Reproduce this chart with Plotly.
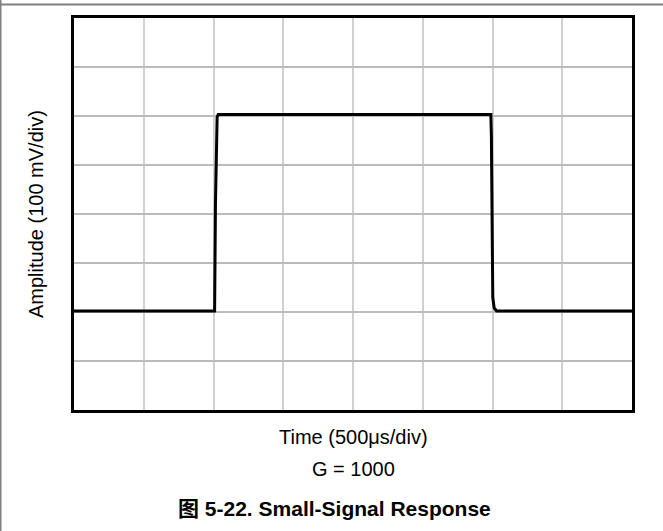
import plotly.graph_objects as go

# Scope trace: time in microseconds, amplitude in millivolts
time_us = [0, 1008, 1014, 1020, 1026, 1034, 1050, 2988, 2992, 2996, 3002, 3012, 3030, 4000]
amplitude_mv = [202, 202, 420, 575, 598, 603, 603, 603, 560, 330, 230, 208, 202, 202]

x_label = "Time (500\u03bcs/div)"
y_label = "Amplitude (100 mV/div)"
gain_note = "G = 1000"
caption = "<b>\u56fe 5-22. Small-Signal Response</b>"

FONT = "Liberation Sans, Arial, Noto Sans CJK SC, sans-serif"

W, H = 663, 531
L, R, T, B = 74, 31, 18, 121
PW, PH = W - L - R, H - T - B


def px_to_paper_x(px):
    return (px - L) / PW


def px_to_paper_y(py):
    return (H - B - py) / PH


fig = go.Figure()
fig.add_trace(go.Scatter(
    x=time_us, y=amplitude_mv, mode="lines",
    line=dict(color="black", width=3),
    hoverinfo="skip", showlegend=False,
))

axis_common = dict(
    showline=True, linecolor="black", linewidth=3, mirror=True,
    showticklabels=False, ticks="", zeroline=False, showgrid=True,
    gridwidth=1.5, fixedrange=True,
)
fig.update_xaxes(range=[0, 4000], dtick=500, tick0=0, gridcolor="#d0d0d0", **axis_common)
fig.update_yaxes(range=[0, 800], dtick=100, tick0=0, gridcolor="#bcbcbc", **axis_common)

annotations = [
    dict(text=y_label, x=px_to_paper_x(36), y=0.5, textangle=-90,
         font=dict(size=20)),
    dict(text=x_label, x=0.5, y=px_to_paper_y(437), font=dict(size=20)),
    dict(text=gain_note, x=0.5, y=px_to_paper_y(469), font=dict(size=20)),
    dict(text=caption, x=px_to_paper_x(334), y=px_to_paper_y(508),
         font=dict(size=21)),
]
for a in annotations:
    a.update(xref="paper", yref="paper", showarrow=False,
             xanchor="center", yanchor="middle")

# Page rules: thin gray line across the top and down the left edge
shapes = [
    dict(type="line", xref="paper", yref="paper",
         x0=px_to_paper_x(0), x1=px_to_paper_x(W),
         y0=px_to_paper_y(4.5), y1=px_to_paper_y(4.5),
         line=dict(color="#808080", width=2)),
    dict(type="line", xref="paper", yref="paper",
         x0=px_to_paper_x(0.75), x1=px_to_paper_x(0.75),
         y0=px_to_paper_y(0), y1=px_to_paper_y(H),
         line=dict(color="#808080", width=1.5)),
]

fig.update_layout(
    width=W, height=H,
    margin=dict(l=L, r=R, t=T, b=B),
    paper_bgcolor="white", plot_bgcolor="white",
    font=dict(family=FONT, color="black"),
    annotations=annotations, shapes=shapes,
    showlegend=False,
)

fig.write_html("out.html", config={"displayModeBar": False})
